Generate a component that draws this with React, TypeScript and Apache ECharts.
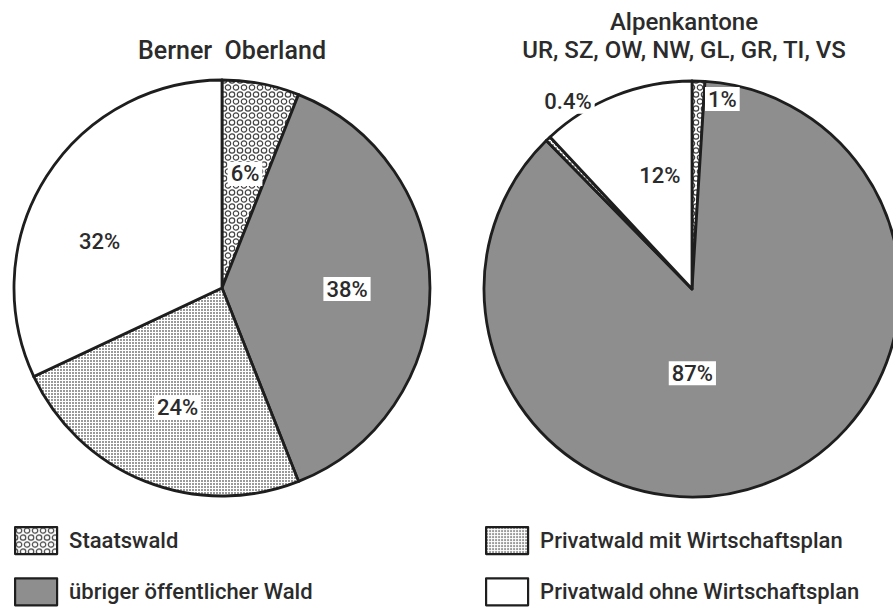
import React, { useEffect, useRef } from "react";
import * as echarts from "echarts";

const categories = [
  "Staatswald",
  "übriger öffentlicher Wald",
  "Privatwald mit Wirtschaftsplan",
  "Privatwald ohne Wirtschaftsplan",
];
const bernerOberlandValues = [6, 38, 24, 32];
const alpenkantoneValues = [1, 87, 0.4, 12];
const leftTitle = "Berner  Oberland";
const rightTitleLines = ["Alpenkantone", "UR, SZ, OW, NW, GL, GR, TI, VS"];

// label nudges (style only)
const leftLabelShift = [[3, -9], [18, 1], [-5, 20], [-32, 11]];
const rightLabelShift = [[27, -83], [-37, -16], [-50, -110], [7, -14]];

const FONT = "Roboto, 'DejaVu Sans', sans-serif";
const INK = "#2b2b2b";

function makeCanvas(w: number, h: number, draw: (ctx: CanvasRenderingContext2D) => void) {
  const c = document.createElement("canvas");
  c.width = w;
  c.height = h;
  const ctx = c.getContext("2d") as CanvasRenderingContext2D;
  draw(ctx);
  return c;
}

export default function App() {
  const ref = useRef<HTMLDivElement>(null);
  useEffect(() => {
    if (!ref.current) return;
    const chart = echarts.init(ref.current, undefined, { renderer: "svg" });

    const ringCanvas = makeCanvas(8, 14, (ctx) => {
      ctx.fillStyle = "#ffffff";
      ctx.fillRect(0, 0, 8, 14);
      ctx.strokeStyle = "#444444";
      ctx.lineWidth = 1.2;
      const pts = [[4, 3.5], [0, 10.5], [8, 10.5]];
      pts.forEach(([x, y]) => {
        ctx.beginPath();
        ctx.arc(x, y, 2.7, 0, Math.PI * 2);
        ctx.stroke();
      });
    });
    const dotCanvas = makeCanvas(3, 3, (ctx) => {
      ctx.fillStyle = "#ffffff";
      ctx.fillRect(0, 0, 3, 3);
      ctx.fillStyle = "#9a9a9a";
      ctx.fillRect(0, 0, 2, 2);
    });

    const fills: any[] = [
      { image: ringCanvas, repeat: "repeat" },
      "#8e8e8e",
      { image: dotCanvas, repeat: "repeat" },
      "#ffffff",
    ];

    const makePie = (name: string, center: number[], values: number[], shifts: number[][]) => ({
      type: "pie",
      name,
      center,
      radius: 208,
      startAngle: 90,
      clockwise: true,
      silent: true,
      avoidLabelOverlap: false,
      label: {
        show: true,
        position: "inside",
        formatter: (p: any) => `${p.value}%`,
        color: INK,
        fontSize: 22,
        fontWeight: 500,
        fontFamily: FONT,
        backgroundColor: "#ffffff",
        padding: [1, 3],
      },
      labelLine: { show: false },
      labelLayout: (params: any) => ({
        dx: shifts[params.dataIndex][0],
        dy: shifts[params.dataIndex][1],
      }),
      itemStyle: { borderColor: "#1e1e1e", borderWidth: 2.8 },
      emphasis: { disabled: true },
      data: categories.map((n, i) => ({
        name: n,
        value: values[i],
        itemStyle: { color: fills[i] },
      })),
    });

    const legendCommon = {
      orient: "vertical",
      padding: 0,
      itemWidth: 42,
      itemHeight: 27,
      itemGap: 22,
      icon: "rect",
      selectedMode: false,
      itemStyle: { borderColor: "#1e1e1e", borderWidth: 2.2 },
      textStyle: {
        color: INK,
        fontSize: 22,
        fontWeight: 500,
        fontFamily: FONT,
        padding: [0, 0, 0, 7],
      },
    };

    chart.setOption({
      animation: false,
      backgroundColor: "#ffffff",
      legend: [
        { ...legendCommon, left: 14, top: 526, data: categories.slice(0, 2) },
        { ...legendCommon, left: 485, top: 526, data: categories.slice(2, 4) },
      ],
      graphic: [
        {
          type: "text",
          x: 232,
          y: 50,
          style: {
            text: leftTitle,
            textAlign: "center",
            textVerticalAlign: "middle",
            fill: INK,
            font: `500 25px ${FONT}`,
          },
        },
        {
          type: "text",
          x: 684,
          y: 36,
          style: {
            text: rightTitleLines.join("\n"),
            textAlign: "center",
            textVerticalAlign: "middle",
            lineHeight: 28,
            fill: INK,
            font: `500 24px ${FONT}`,
          },
        },
      ],
      series: [
        makePie("Berner Oberland", [222, 288], bernerOberlandValues, leftLabelShift),
        makePie("Alpenkantone", [692, 289], alpenkantoneValues, rightLabelShift),
      ],
    });
    return () => chart.dispose();
  }, []);
  return (
    <div
      ref={ref}
      style={{ position: "fixed", left: 0, top: 0, width: 893, height: 608 }}
    />
  );
}
